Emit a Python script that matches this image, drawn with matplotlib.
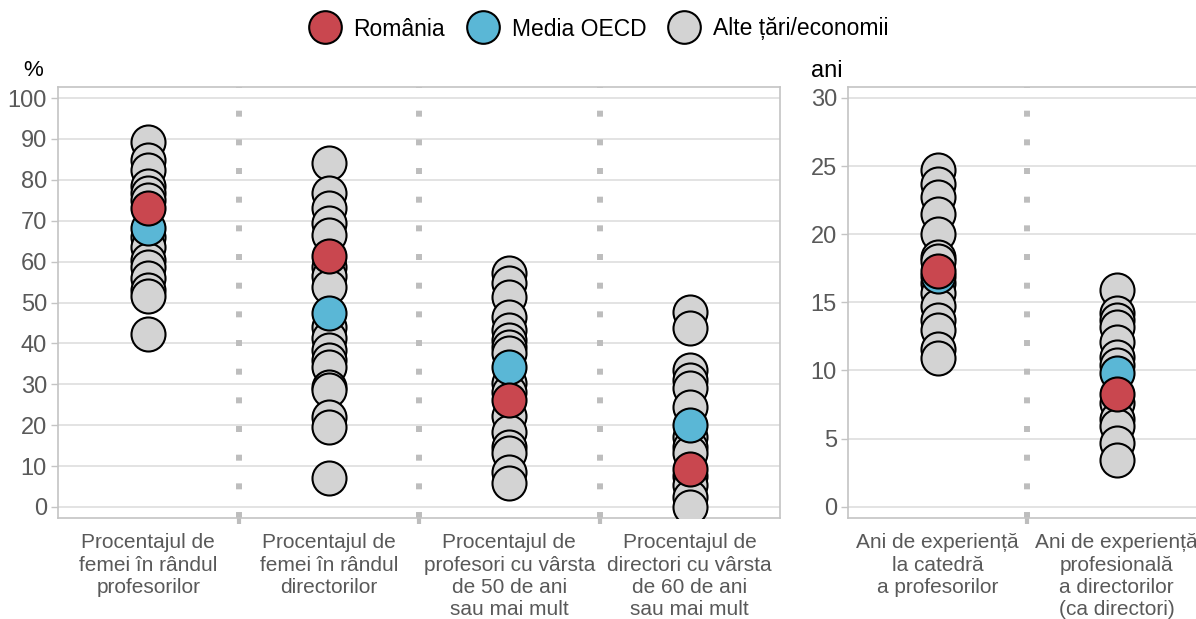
import numpy as np
import matplotlib.pyplot as plt
from matplotlib.lines import Line2D

plt.rcParams['font.family'] = ['Liberation Sans', 'DejaVu Sans']

# left panel (%)
pct_labels = ["Procentajul de\nfemei în rândul\nprofesorilor",
              "Procentajul de\nfemei în rândul\ndirectorilor",
              "Procentajul de\nprofesori cu vârsta\nde 50 de ani\nsau mai mult",
              "Procentajul de\ndirectori cu vârsta\nde 60 de ani\nsau mai mult"]
pct_others = [
    [89.3, 84.8, 82.4, 78.5, 76.7, 75.0, 66.0, 63.6, 60.4, 58.6, 56.0, 53.0, 51.7, 42.3],
    [84.0, 76.7, 73.0, 69.4, 66.5, 58.8, 56.5, 53.9, 44.0, 41.3, 38.4, 35.9, 34.3,
     29.4, 28.6, 22.0, 19.6, 7.0],
    [57.1, 54.7, 51.4, 46.5, 43.3, 40.8, 39.2, 37.6, 30.2, 28.0, 22.2, 18.4, 14.7,
     13.2, 8.6, 5.8],
    [47.6, 43.7, 33.5, 31.0, 29.0, 24.5, 17.0, 14.7, 13.1, 7.5, 5.4, 2.5, 0.0],
]
pct_romania = [73.2, 61.4, 26.2, 9.3]
pct_oecd = [68.2, 47.4, 34.3, 20.0]

# right panel (years)
yrs_labels = ["Ani de experiență\nla catedră\na profesorilor",
              "Ani de experiență\nprofesională\na directorilor\n(ca directori)"]
yrs_others = [
    [24.7, 23.7, 22.7, 21.5, 20.0, 18.3, 18.0, 16.4, 15.7, 14.7, 13.7, 13.0, 11.6, 10.9],
    [15.9, 14.2, 13.7, 13.2, 12.1, 11.0, 10.4, 7.6, 6.4, 5.9, 4.65, 3.4],
]
yrs_romania = [17.3, 8.3]
yrs_oecd = [16.9, 9.8]

c_ro = '#c9474f'
c_oecd = '#5ab7d6'
c_oth = '#d3d3d3'
grid_c = '#dedede'
frame_c = '#c4c4c4'
txt_c = '#595959'
msize = 600

fig = plt.figure(figsize=(11.96, 6.19), dpi=100)
ax1 = fig.add_axes([58 / 1196, 101 / 619, 722 / 1196, 431 / 619])
ax2 = fig.add_axes([848 / 1196, 101 / 619, 358 / 1196, 431 / 619])


def draw_panel(ax, labels, others, ro, oecd, ylim, yticks):
    n = len(labels)
    for i in range(n):
        ax.scatter([i] * len(others[i]), others[i], s=msize, c=c_oth,
                   edgecolors='black', linewidths=1.5, zorder=3)
    ax.scatter(range(n), oecd, s=msize, c=c_oecd, edgecolors='black',
               linewidths=1.5, zorder=4)
    ax.scatter(range(n), ro, s=msize, c=c_ro, edgecolors='black',
               linewidths=1.5, zorder=5)
    for i in range(n - 1):
        ax.axvline(i + 0.5, color='#bdbdbd', lw=4.3, ls=(0, (1, 3.8)),
                   dash_capstyle='butt', zorder=1)
    ax.set_xlim(-0.5, n - 0.5)
    ax.set_ylim(*ylim)
    ax.set_yticks(yticks)
    ax.yaxis.grid(True, color=grid_c, lw=1.2, zorder=0)
    ax.set_axisbelow(True)
    ax.set_xticks(range(n))
    ax.set_xticklabels(labels, fontsize=15, color=txt_c, linespacing=1.22)
    ax.set_xticks([i + 0.5 for i in range(n - 1)], minor=True)
    ax.tick_params(axis='x', which='major', length=0, pad=11)
    ax.tick_params(axis='x', which='minor', length=4, width=3, color='#bdbdbd')
    ax.tick_params(axis='y', length=5, width=1, color=frame_c, labelsize=17,
                   labelcolor=txt_c, pad=3)
    for sp in ax.spines.values():
        sp.set_color(frame_c)
        sp.set_linewidth(1.2)


draw_panel(ax1, pct_labels, pct_others, pct_romania, pct_oecd,
           (-2.7, 102.7), np.arange(0, 101, 10))
draw_panel(ax2, yrs_labels, yrs_others, yrs_romania, yrs_oecd,
           (-0.83, 30.8), np.arange(0, 31, 5))

fig.text(33 / 1196, 1 - 71 / 619, '%', fontsize=16, ha='center', va='center')
fig.text(827 / 1196, 1 - 71 / 619, 'ani', fontsize=17, ha='center', va='center')

handles = [Line2D([], [], ls='', marker='o', ms=23.5, mfc=c, mec='black', mew=1.5)
           for c in (c_ro, c_oecd, c_oth)]
fig.legend(handles, ['România', 'Media OECD', 'Alte țări/economii'],
           loc='center', bbox_to_anchor=(598 / 1196, 1 - 29 / 619), ncol=3,
           frameon=False, fontsize=16.5, handletextpad=0.5, columnspacing=0.9,
           handlelength=1.5)

fig.savefig('out.png', dpi=100)
